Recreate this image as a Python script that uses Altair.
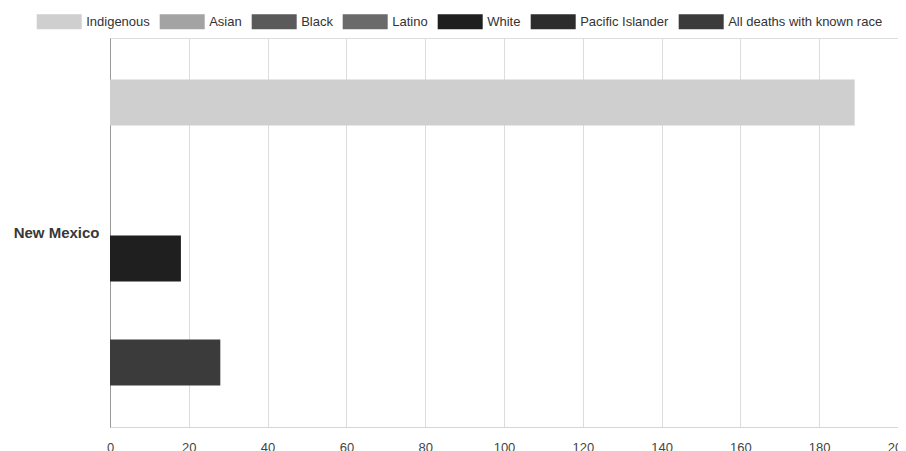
import altair as alt
import pandas as pd

states = ["New Mexico"]
series = ["Indigenous", "Asian", "Black", "Latino", "White",
          "Pacific Islander", "All deaths with known race"]
values = [189, None, None, None, 18, None, 28]
colors = ["#cfcfcf", "#a3a3a3", "#5a5a5a", "#6a6a6a", "#1f1f1f",
          "#2c2c2c", "#3b3b3b"]
# bar slots in the group, as laid out in the source chart
slots = ["Indigenous", "Asian", "Black", "White",
         "Pacific Islander", "All deaths with known race"]
x_ticks = [0, 20, 40, 60, 80, 100, 120, 140, 160, 180, 200]

df = pd.DataFrame({
    "state": [states[0]] * len(series),
    "series": series,
    "value": values,
})

rect_path = "M-1.5,-0.5H1.5V0.5H-1.5Z"

chart = alt.Chart(df).mark_bar(stroke=None).encode(
    x=alt.X("value:Q",
            scale=alt.Scale(domain=[0, 200], nice=False),
            axis=alt.Axis(values=x_ticks, title=None, grid=True,
                          gridColor="#dcdcdc", domainColor="#d6d6d6",
                          ticks=False, labelFontSize=13, labelColor="#444",
                          labelPadding=14, labelFont="Liberation Sans",
                          labelFlush=False)),
    y=alt.Y("state:N",
            scale=alt.Scale(domain=states, paddingInner=0,
                            paddingOuter=0.1234),
            axis=alt.Axis(title=None, ticks=False, domainColor="#999999",
                          labelFontSize=15, labelFontWeight="bold",
                          labelColor="#383838", labelPadding=11,
                          labelFont="Liberation Sans")),
    yOffset=alt.YOffset("series:N",
                        scale=alt.Scale(domain=slots, paddingInner=0.115,
                                        paddingOuter=0.0577)),
    color=alt.Color("series:N",
                    scale=alt.Scale(domain=series, range=colors),
                    legend=alt.Legend(title=None, orient="none",
                                      direction="horizontal",
                                      legendX=-65.8, legendY=-31.5,
                                      symbolType=rect_path, symbolSize=900,
                                      symbolStrokeWidth=0,
                                      labelFontSize=13, labelColor="#333",
                                      labelFont="Liberation Sans",
                                      labelOffset=12, columnPadding=9,
                                      padding=0, labelLimit=400,
                                      columns=7)),
).properties(
    width=788,
    height=389,
    autosize=alt.AutoSizeParams(type="none"),
    padding={"left": 102, "top": 30, "right": 0, "bottom": 24},
).configure_view(
    stroke="#dcdcdc"
).configure(background="white")

chart.save("out.html", embed_options={"renderer": "svg", "actions": False})
